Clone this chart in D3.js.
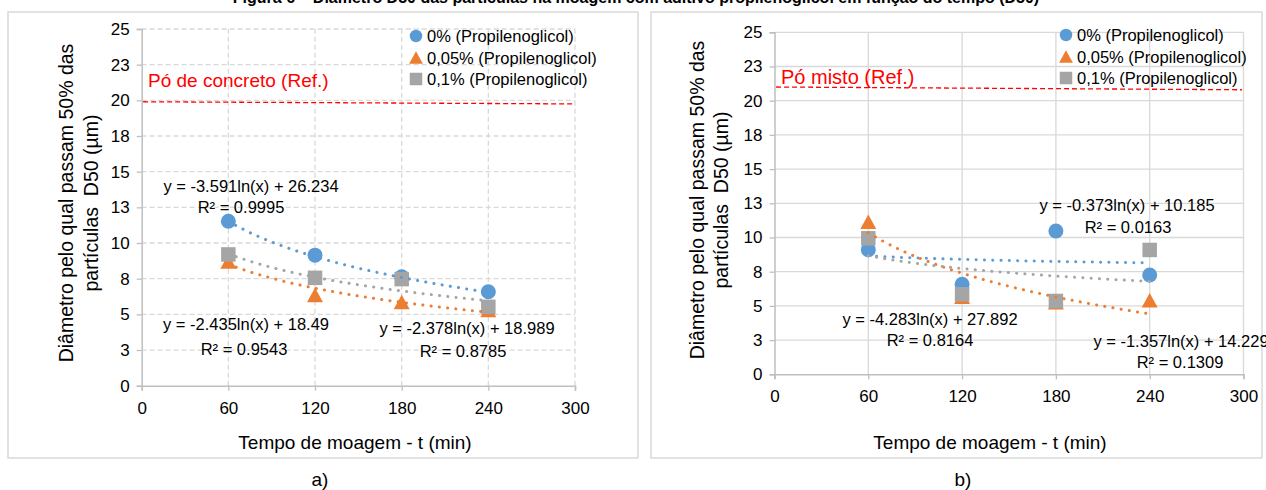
<!DOCTYPE html>
<html><head><meta charset="utf-8">
<script src="https://cdn.jsdelivr.net/npm/d3@7"></script>
<style>body{margin:0;background:#fff}svg{display:block;font-family:"Liberation Sans",Arial,sans-serif}text{white-space:pre}</style>
</head><body><svg id="c" width="1266" height="490"></svg>
<script>
// ---- data ----
const times = [60, 120, 180, 240];
const seriesNames = ["0% (Propilenoglicol)", "0,05% (Propilenoglicol)", "0,1% (Propilenoglicol)"];
const seriesColors = ["#5B9BD5", "#ED7D31", "#A5A5A5"];
const seriesShapes = ["circle", "triangle", "square"];
// panel a) concreto
const concreto0 = [11.53, 9.15, 7.63, 6.58];
const concreto005 = [8.7, 6.35, 5.86, 5.3];
const concreto01 = [9.2, 7.56, 7.47, 5.53];
const concretoTrendA = [-3.591, -2.435, -2.378];
const concretoTrendB = [26.234, 18.49, 18.989];
const concretoR2 = ["0.9995", "0.9543", "0.8785"];
const concretoRef = [19.9, 19.75];
// panel b) misto
const misto0 = [9.1, 6.58, 10.48, 7.26];
const misto005 = [11.15, 5.67, 5.26, 5.41];
const misto01 = [9.94, 5.85, 5.36, 9.09];
const mistoTrendA = [-0.373, -4.283, -1.357];
const mistoTrendB = [10.185, 27.892, 14.229];
const mistoR2 = ["0.0163", "0.8164", "0.1309"];
const mistoRef = [21.0, 20.8];
// axes
const xTicks = [0, 60, 120, 180, 240, 300];
const yTicks = [0, 2.5, 5, 7.5, 10, 12.5, 15, 17.5, 20, 22.5, 25];
const yTickLabels = ["0", "3", "5", "8", "10", "13", "15", "18", "20", "23", "25"];
const yTitle = ["Diâmetro pelo qual passam 50% das", "partículas  D50 (µm)"];
const xTitle = "Tempo de moagem - t (min)";

const svg = d3.select("#c");

// caption at the top (cut off by the page edge in the reference)
svg.append("text").attr("x", 636).attr("y", 3).attr("text-anchor", "middle")
  .attr("font-size", 16).attr("font-weight", "bold").attr("fill", "#000")
  .text("Figura 6 – Diâmetro D50 das partículas na moagem com aditivo propilenoglicol em função do tempo (D50)");

function fmtEq(a, b) {
  return "y = " + a.toFixed(3) + "ln(x) + " + b;
}

function panel(cfg) {
  const g = svg.append("g");
  g.append("rect").attr("x", cfg.box[0]).attr("y", cfg.box[1]).attr("width", cfg.box[2]).attr("height", cfg.box[3])
    .attr("fill", "#fff").attr("stroke", "#D9D9D9").attr("stroke-width", 1.5);

  const x = d3.scaleLinear().domain([0, 300]).range(cfg.xr);
  const y = d3.scaleLinear().domain([0, 25]).range(cfg.yr);
  const dash = cfg.dashedGrid ? "5,3" : null;

  // grid
  g.append("g").selectAll("line").data(yTicks.slice(1)).join("line")
    .attr("x1", x(0)).attr("x2", x(300)).attr("y1", d => y(d)).attr("y2", d => y(d))
    .attr("stroke", "#D9D9D9").attr("stroke-width", 1.3).attr("stroke-dasharray", dash);
  g.append("g").selectAll("line").data(xTicks.slice(1)).join("line")
    .attr("x1", d => x(d)).attr("x2", d => x(d)).attr("y1", y(0)).attr("y2", y(25))
    .attr("stroke", "#D9D9D9").attr("stroke-width", 1.3).attr("stroke-dasharray", dash);

  // axes
  const yAxis = d3.axisLeft(y).tickValues(yTicks).tickSize(5).tickPadding(7)
    .tickFormat((d, i) => yTickLabels[i]);
  const ya = g.append("g").attr("transform", `translate(${x(0)},0)`).call(yAxis);
  const xAxis = d3.axisBottom(x).tickValues(xTicks).tickSize(5).tickPadding(11);
  const xa = g.append("g").attr("transform", `translate(0,${y(0)})`).call(xAxis);
  [ya, xa].forEach(a => {
    a.select(".domain").attr("stroke", "#BFBFBF").attr("stroke-width", 1.5);
    a.selectAll(".tick line").attr("stroke", "#BFBFBF").attr("stroke-width", 1.3);
    a.selectAll("text").attr("font-size", 17).attr("fill", "#000")
      .attr("font-family", '"Liberation Sans",Arial,sans-serif');
  });

  // axis titles
  yTitle.forEach((t, i) => {
    g.append("text").attr("transform", `translate(${cfg.yTitleX[i]},${cfg.yTitleY}) rotate(-90)`)
      .attr("text-anchor", "middle").attr("font-size", 19.5).attr("fill", "#000").text(t);
  });
  g.append("text").attr("x", cfg.xTitlePos[0]).attr("y", cfg.xTitlePos[1]).attr("text-anchor", "middle")
    .attr("font-size", 19).attr("fill", "#000").text(xTitle);
  g.append("text").attr("x", cfg.subPos[0]).attr("y", cfg.subPos[1]).attr("text-anchor", "middle")
    .attr("font-size", 19).attr("fill", "#000").text(cfg.sub);

  // reference line
  g.append("line").attr("x1", x(1)).attr("x2", x(299)).attr("y1", y(cfg.ref[0])).attr("y2", y(cfg.ref[1]))
    .attr("stroke", "#FF0000").attr("stroke-width", 1.3).attr("stroke-dasharray", "5,3");
  g.append("text").attr("x", cfg.refTextPos[0]).attr("y", cfg.refTextPos[1]).attr("font-size", cfg.refSize)
    .attr("fill", "#FF0000").text(cfg.refText);

  // markers
  const sym = (shape, s) => {
    if (shape === "circle") return d3.symbol(d3.symbolCircle, Math.PI * s * s / 4)();
    if (shape === "square") return `M${-s / 2},${-s / 2}h${s}v${s}h${-s}Z`;
    return `M0,${-s / 2}L${s * 0.55},${s / 2}L${-s * 0.55},${s / 2}Z`;
  };
  cfg.series.forEach((vals, si) => {
    g.append("g").selectAll("path").data(vals).join("path")
      .attr("transform", (d, i) => `translate(${x(times[i])},${y(d)})`)
      .attr("d", sym(seriesShapes[si], si === 0 ? 15 : 14.5))
      .attr("fill", seriesColors[si]);
  });

  // trendlines (from the displayed equations)
  cfg.trendA.forEach((a, si) => {
    const b = cfg.trendB[si];
    const pts = d3.range(60, 240.01, 2);
    const ln = d3.line().x(t => x(t)).y(t => y(a * Math.log(t) + b));
    g.append("path").attr("d", ln(pts)).attr("fill", "none").attr("stroke", seriesColors[si])
      .attr("stroke-width", 3).attr("stroke-linecap", "round").attr("stroke-dasharray", "0.1,8.2");
  });

  // equation labels
  cfg.eqPos.forEach((p, si) => {
    g.append("text").attr("x", p[0]).attr("y", p[1]).attr("text-anchor", "middle").attr("font-size", 16.5)
      .attr("fill", "#000").text(fmtEq(cfg.trendA[si], cfg.trendB[si]));
    g.append("text").attr("x", p[0] + cfg.r2dx[si]).attr("y", p[1] + cfg.r2dy[si]).attr("text-anchor", "middle")
      .attr("font-size", 16.5).attr("fill", "#000").text("R² = " + cfg.r2[si]);
  });

  // legend
  seriesNames.forEach((n, si) => {
    const ly = cfg.legPos[1] + si * 21.5;
    g.append("path").attr("transform", `translate(${cfg.legPos[0]},${ly})`)
      .attr("d", sym(seriesShapes[si], 12.5)).attr("fill", seriesColors[si]);
    g.append("text").attr("x", cfg.legPos[0] + 11).attr("y", ly + 6).attr("font-size", 16.5)
      .attr("fill", "#000").text(n);
  });
}

panel({
  box: [8, 12, 630, 446], xr: [141.7, 575], yr: [385.7, 29], dashedGrid: true,
  series: [concreto0, concreto005, concreto01],
  trendA: concretoTrendA, trendB: concretoTrendB, r2: concretoR2,
  eqPos: [[251, 192], [246, 330], [467, 334]], r2dx: [-10, -2, -4], r2dy: [21, 25, 23],
  ref: concretoRef, refText: "Pó de concreto (Ref.)", refTextPos: [148, 87], refSize: 19,
  legPos: [416, 36],
  yTitleX: [73, 98], yTitleY: 203, xTitlePos: [355, 449], sub: "a)", subPos: [320, 486]
});
panel({
  box: [651, 12, 611, 446], xr: [774.5, 1243.5], yr: [374.3, 32.3], dashedGrid: false,
  series: [misto0, misto005, misto01],
  trendA: mistoTrendA, trendB: mistoTrendB, r2: mistoR2,
  eqPos: [[1127, 211], [930, 325], [1181, 347]], r2dx: [1, 0, -1], r2dy: [22, 21, 21],
  ref: mistoRef, refText: "Pó misto (Ref.)", refTextPos: [781, 84], refSize: 20,
  legPos: [1066, 35],
  yTitleX: [704, 728], yTitleY: 200, xTitlePos: [990, 449], sub: "b)", subPos: [963, 486]
});
</script></body></html>
